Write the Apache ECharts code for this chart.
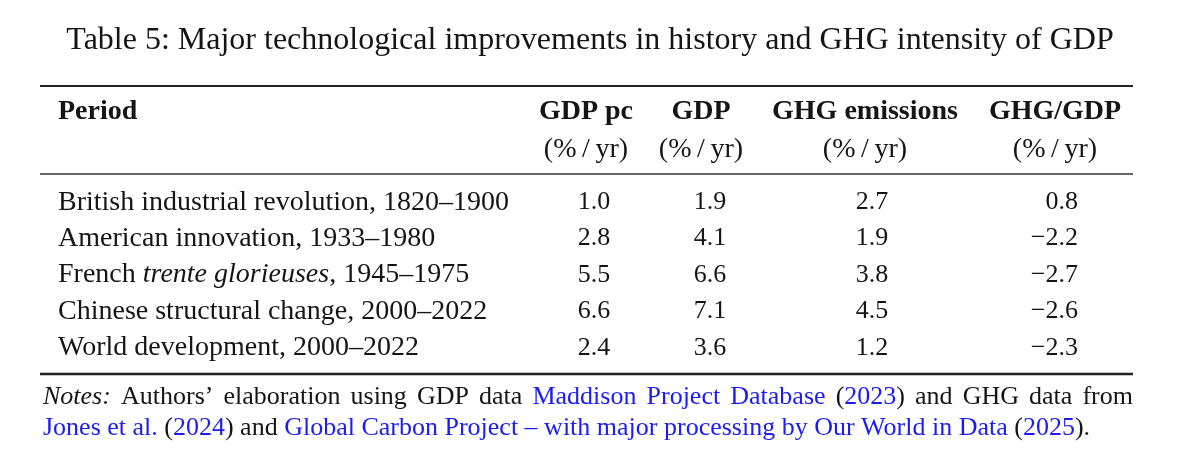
<!DOCTYPE html>
<html>
<head>
<meta charset="utf-8">
<script src="https://cdn.jsdelivr.net/npm/echarts@6/dist/echarts.min.js"></script>
<style>
  html, body { margin: 0; padding: 0; background: #fff; }
  #chartMain { width: 1179px; height: 463px; }
</style>
</head>
<body>
<div id="chartMain"></div>
<script>
// table data
const periods = [
  'British industrial revolution, 1820–1900',
  'American innovation, 1933–1980',
  'French trente glorieuses, 1945–1975',
  'Chinese structural change, 2000–2022',
  'World development, 2000–2022'
];
const gdpPc = ['1.0', '2.8', '5.5', '6.6', '2.4'];
const gdp = ['1.9', '4.1', '6.6', '7.1', '3.6'];
const ghgEmissions = ['2.7', '1.9', '3.8', '4.5', '1.2'];
const ghgPerGdp = ['0.8', '−2.2', '−2.7', '−2.6', '−2.3'];
const headers = ['GDP pc', 'GDP', 'GHG emissions', 'GHG/GDP'];
const units = '(%\u2009/\u2009yr)';

const FONT = '"Liberation Serif", "DejaVu Serif", serif';
const INK = '#151515';
const LINK = '#1c1cf2';

// column layout (x positions on the hidden 0..1179 axis)
const TABLE_L = 40, TABLE_R = 1133;
const labelX = 58;
const valueX = [594, 710, 872, 1078];
const valueAlign = ['center', 'center', 'center', 'right'];
const headX = [586, 701, 865, 1055];

const columns = [gdpPc, gdp, ghgEmissions, ghgPerGdp];

let myChart = echarts.init(document.getElementById('chartMain'));

function periodText(s) {
  return s.replace('trente glorieuses', '{i|trente glorieuses}');
}

const graphics = [
  { type: 'text', x: 590, y: 41,
    style: { text: 'Table 5: Major technological improvements in history and GHG intensity of GDP',
      font: '32px ' + FONT, fill: INK, align: 'center', verticalAlign: 'middle' } },
  { type: 'line', shape: { x1: TABLE_L, y1: 86, x2: TABLE_R, y2: 86 }, style: { stroke: '#222', lineWidth: 2 } },
  { type: 'line', shape: { x1: TABLE_L, y1: 174, x2: TABLE_R, y2: 174 }, style: { stroke: '#333', lineWidth: 1.3 } },
  { type: 'line', shape: { x1: TABLE_L, y1: 374, x2: TABLE_R, y2: 374 }, style: { stroke: '#222', lineWidth: 2.5 } },
  { type: 'text', x: labelX, y: 112,
    style: { text: 'Period', font: 'bold 28px ' + FONT, fill: INK, align: 'left', verticalAlign: 'middle' } }
];
headers.forEach((h, i) => {
  graphics.push({ type: 'text', x: headX[i], y: 112,
    style: { text: h, font: 'bold 28px ' + FONT, fill: INK, align: 'center', verticalAlign: 'middle' } });
  graphics.push({ type: 'text', x: headX[i], y: 150,
    style: { text: units, font: '28px ' + FONT, fill: INK, align: 'center', verticalAlign: 'middle' } });
});

// notes: first line justified, second line natural spacing
const NOTE = 26;
const noteStyles = {
  n: 'normal ' + NOTE + 'px ' + FONT,
  i: 'italic ' + NOTE + 'px ' + FONT,
  b: 'normal ' + NOTE + 'px ' + FONT
};
const noteRich = {
  n: { font: noteStyles.n, fill: INK },
  i: { font: noteStyles.i, fill: INK },
  b: { font: noteStyles.b, fill: LINK }
};
const line1 = [
  [['Notes:', 'i']], [['Authors’', 'n']], [['elaboration', 'n']], [['using', 'n']],
  [['GDP', 'n']], [['data', 'n']], [['Maddison', 'b']], [['Project', 'b']], [['Database', 'b']],
  [['(', 'n'], ['2023', 'b'], [')', 'n']], [['and', 'n']], [['GHG', 'n']], [['data', 'n']], [['from', 'n']]
];
const ctx = document.createElement('canvas').getContext('2d');
function wordWidth(w) {
  return w.reduce((s, p) => { ctx.font = noteStyles[p[1]]; return s + ctx.measureText(p[0]).width; }, 0);
}
const widths = line1.map(wordWidth);
const gap = (TABLE_R - 43 - widths.reduce((a, b) => a + b, 0)) / (line1.length - 1);
let cx = 43;
line1.forEach((w, k) => {
  graphics.push({ type: 'text', x: cx, y: 397,
    style: { text: w.map(p => '{' + p[1] + '|' + p[0] + '}').join(''), verticalAlign: 'middle', rich: noteRich } });
  cx += widths[k] + gap;
});
graphics.push({ type: 'text', x: 43, y: 428,
  style: {
    text: '{b|Jones et al.}{n| (}{b|2024}{n|) and }{b|Global Carbon Project – with major processing by Our World in Data}{n| (}{b|2025}{n|).}',
    verticalAlign: 'middle', rich: noteRich
  } });

myChart.setOption({
  animation: false,
  grid: { left: 0, right: 0, top: 184, bottom: 97 },
  xAxis: { type: 'value', min: 0, max: 1179, show: false },
  yAxis: { type: 'category', data: periods, inverse: true, show: false },
  graphic: graphics,
  series: [{
    type: 'custom',
    data: periods.map((p, i) => [0, i]),
    encode: { x: 0, y: 1 },
    renderItem: function (params, api) {
      const row = api.value(1);
      const y = api.coord([0, row])[1];
      const children = [{
        type: 'text', x: api.coord([labelX, row])[0], y: y,
        style: { text: periodText(periods[row]), font: '28px ' + FONT, fill: INK,
          align: 'left', verticalAlign: 'middle',
          rich: { i: { font: 'italic 28px ' + FONT, fill: INK } } }
      }];
      columns.forEach((col, c) => {
        children.push({
          type: 'text', x: api.coord([valueX[c], row])[0], y: y,
          style: { text: col[row], font: '26px ' + FONT, fill: INK,
            align: valueAlign[c], verticalAlign: 'middle' }
        });
      });
      return { type: 'group', children: children };
    }
  }]
});
</script>
</body>
</html>
